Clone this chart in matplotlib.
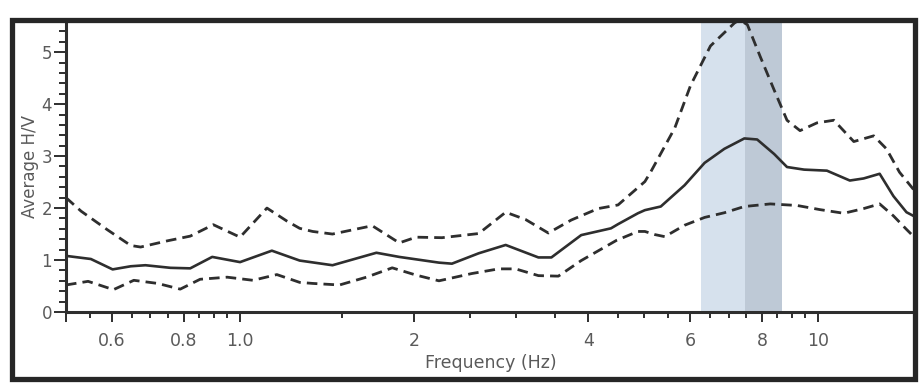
import matplotlib
matplotlib.use("Agg")
import matplotlib.pyplot as plt
from matplotlib.patches import Rectangle
from matplotlib.ticker import FixedLocator, FixedFormatter

# Average H/V spectral ratio and its +/- one standard deviation envelope
mean_freq = [0.5, 0.552, 0.602, 0.647, 0.686, 0.758, 0.82, 0.895, 1.0, 1.135,
             1.268, 1.445, 1.721, 1.885, 2.208, 2.325, 2.587, 2.88, 3.281, 3.455,
             3.891, 4.38, 4.505, 4.876, 5.014, 5.341, 5.873, 6.36, 6.88, 7.45,
             7.84, 8.39, 8.83, 9.45, 10.35, 11.34, 11.98, 12.77, 13.49, 14.21, 14.78]
mean_hv = [1.08, 1.02, 0.82, 0.88, 0.90, 0.85, 0.84, 1.06, 0.96, 1.18,
           0.99, 0.90, 1.14, 1.06, 0.95, 0.93, 1.13, 1.29, 1.05, 1.05,
           1.48, 1.61, 1.69, 1.90, 1.96, 2.03, 2.44, 2.87, 3.14, 3.34,
           3.32, 3.04, 2.79, 2.74, 2.72, 2.53, 2.57, 2.66, 2.23, 1.92, 1.82]

upper_freq = [0.5, 0.531, 0.59, 0.647, 0.673, 0.749, 0.82, 0.899, 1.0, 1.113,
              1.205, 1.268, 1.335, 1.445, 1.693, 1.885, 2.016, 2.235, 2.587, 2.88,
              3.117, 3.413, 3.74, 4.161, 4.505, 5.014, 5.134, 5.647, 6.014, 6.51,
              7.16, 7.3, 7.54, 7.94, 8.39, 8.83, 9.3, 9.95, 10.64, 11.52,
              12.47, 13.12, 13.82, 14.61]
upper_hv = [2.20, 1.94, 1.58, 1.28, 1.25, 1.37, 1.46, 1.68, 1.44, 2.00,
            1.75, 1.61, 1.55, 1.50, 1.66, 1.33, 1.44, 1.43, 1.51, 1.92,
            1.78, 1.52, 1.77, 1.99, 2.06, 2.51, 2.70, 3.54, 4.36, 5.12,
            5.56, 5.62, 5.53, 4.91, 4.27, 3.69, 3.49, 3.64, 3.69, 3.28,
            3.39, 3.14, 2.69, 2.36]

lower_freq = [0.5, 0.546, 0.604, 0.655, 0.72, 0.788, 0.853, 0.95, 1.053, 1.158,
              1.268, 1.335, 1.486, 1.654, 1.833, 2.016, 2.208, 2.516, 2.801, 2.995,
              3.281, 3.552, 3.891, 4.48, 4.876, 5.014, 5.216, 5.427, 5.873, 6.36,
              6.88, 7.45, 8.26, 9.19, 10.07, 11.07, 11.98, 12.77, 13.49, 14.21, 14.78]
lower_hv = [0.52, 0.59, 0.43, 0.61, 0.55, 0.44, 0.63, 0.67, 0.61, 0.72,
            0.57, 0.55, 0.52, 0.67, 0.85, 0.71, 0.60, 0.74, 0.83, 0.83,
            0.70, 0.69, 0.99, 1.38, 1.55, 1.55, 1.49, 1.45, 1.67, 1.82,
            1.91, 2.03, 2.08, 2.05, 1.97, 1.90, 1.99, 2.08, 1.85, 1.59, 1.40]

# Peak frequency and its standard-deviation range
peak_f0 = 7.48
peak_f0_low = 6.26
peak_f0_high = 8.66

# Axis ticks
x_major = [0.5, 0.6, 0.8, 1.0, 2, 4, 6, 8, 10]
x_major_labels = ["", "0.6", "0.8", "1.0", "2", "4", "6", "8", "10"]
x_minor = [0.55, 0.65, 0.7, 0.75, 0.85, 0.9, 0.95, 1.5, 2.5, 3, 3.5,
           4.5, 5, 5.5, 6.5, 7, 7.5, 8.5, 9, 9.5]
y_major = [0, 1, 2, 3, 4, 5]
y_minor = [i * 0.2 for i in range(29)]

W, H = 921, 392
fig = plt.figure(figsize=(W / 100, H / 100), dpi=100)
fig.patch.set_facecolor("white")

line_col = "#2e2e2e"
text_col = "#5a5a5a"

left, right, top, bottom = 66, 915, 21, 312
ax = fig.add_axes([left / W, 1 - bottom / H, (right - left) / W, (bottom - top) / H])

ax.axvspan(peak_f0_low, peak_f0, color="#d6e1ed", lw=0, zorder=0)
ax.axvspan(peak_f0, peak_f0_high, color="#bec9d6", lw=0, zorder=0)

ax.plot(mean_freq, mean_hv, color=line_col, lw=1.9, solid_joinstyle="round")
ax.plot(upper_freq, upper_hv, color=line_col, lw=2.0, dashes=(3.8, 2.2))
ax.plot(lower_freq, lower_hv, color=line_col, lw=2.0, dashes=(3.8, 2.2))

ax.set_xscale("log")
ax.set_xlim(0.5, 14.7)
ax.set_ylim(0, 5.6)

ax.xaxis.set_major_locator(FixedLocator(x_major))
ax.xaxis.set_major_formatter(FixedFormatter(x_major_labels))
ax.xaxis.set_minor_locator(FixedLocator(x_minor))
ax.xaxis.set_minor_formatter(FixedFormatter([]))
ax.yaxis.set_major_locator(FixedLocator(y_major))
ax.yaxis.set_minor_locator(FixedLocator(y_minor))

ax.tick_params(axis="x", which="major", length=7.5, width=1.4, color=line_col,
               labelsize=12.5, labelcolor=text_col, pad=7)
ax.tick_params(axis="x", which="minor", length=4.5, width=1.4, color=line_col)
ax.tick_params(axis="y", which="major", length=9, width=1.4, color=line_col,
               labelsize=12, labelcolor=text_col, pad=1)
ax.tick_params(axis="y", which="minor", length=5, width=1.4, color=line_col)

for s in ("top", "right"):
    ax.spines[s].set_visible(False)
for s in ("left", "bottom"):
    ax.spines[s].set_linewidth(2.2)
    ax.spines[s].set_color(line_col)

ax.set_xlabel("Frequency (Hz)", fontsize=12.5, color=text_col, labelpad=3)
ax.set_ylabel("Average H/V", fontsize=12, color=text_col, labelpad=2)

# outer frame around the whole chart
fl, fr, ft, fb = 12, 915, 20, 379
fig.patches.append(Rectangle((fl / W, 1 - fb / H), (fr - fl) / W, (fb - ft) / H,
                             transform=fig.transFigure, fill=False,
                             edgecolor="#262626", lw=3.8, zorder=10))

fig.savefig("out.png", dpi=100, facecolor="white")
